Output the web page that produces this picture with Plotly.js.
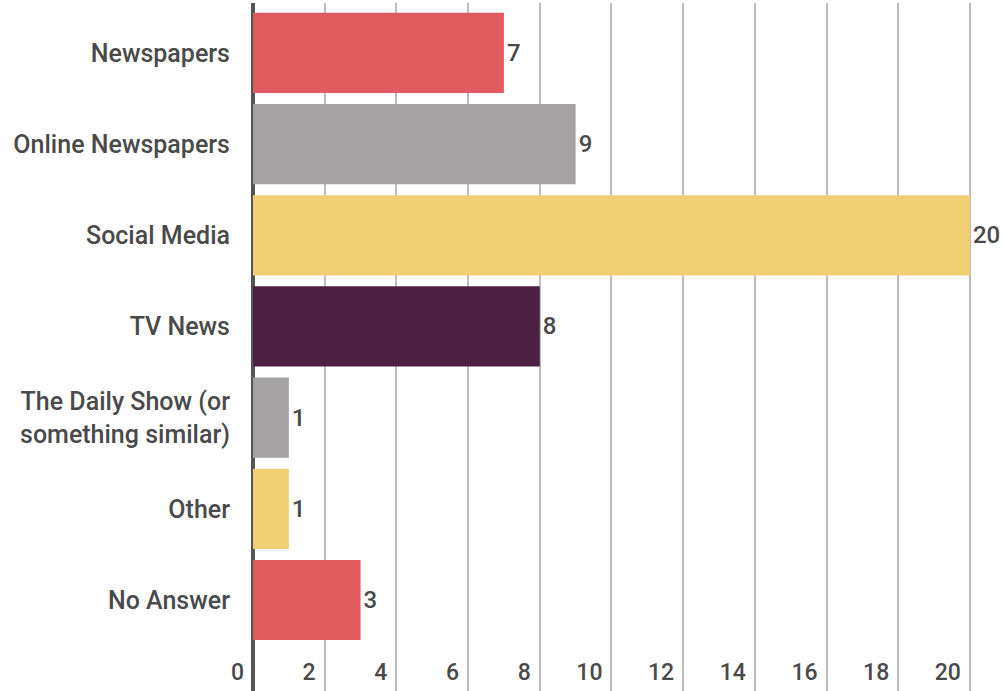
<!DOCTYPE html>
<html>
<head>
<meta charset="utf-8">
<script src="https://cdn.plot.ly/plotly-3.0.1.min.js"></script>
<style>html,body{margin:0;padding:0;background:#fff;}#chart{width:1004px;height:691px;}</style>
</head>
<body>
<div id="chart"></div>
<script>
const categories = ["Newspapers", "Online Newspapers", "Social Media", "TV News", "The Daily Show (or<br>something similar)", "Other", "No Answer"];
const values = [7, 9, 20, 8, 1, 1, 3];
const barColors = ["#E05B60", "#A4A2A3", "#F0CE72", "#4A2140", "#A4A2A3", "#F0CE72", "#E05B60"];
const xTicks = [0, 2, 4, 6, 8, 10, 12, 14, 16, 18, 20];

const trace = {
  type: "bar",
  orientation: "h",
  y: categories,
  x: values,
  marker: {color: barColors, line: {width: 0}},
  text: values.map(String),
  textposition: "outside",
  cliponaxis: false,
  textfont: {family: "Roboto", size: 24, weight: 500, color: "#4a4a4a"},
  hoverinfo: "none"
};

const layout = {
  width: 1004,
  height: 691,
  margin: {l: 253, r: 0, t: 3, b: 0},
  paper_bgcolor: "#fff",
  plot_bgcolor: "#fff",
  showlegend: false,
  bargap: 0.12,
  xaxis: {
    range: [0, 20.95],
    tickvals: xTicks,
    ticktext: xTicks.map(String),
    ticklabelposition: "inside left",
    ticklabeloverflow: "allow",
    ticklabelshift: -9,
    showgrid: true,
    gridcolor: "#bdbdbd",
    gridwidth: 2,
    zeroline: true,
    zerolinecolor: "#555555",
    zerolinewidth: 4,
    showline: false,
    ticks: "",
    tickfont: {family: "Roboto", size: 23, weight: 500, color: "#4a4a4a"},
    fixedrange: true
  },
  yaxis: {
    type: "category",
    range: [6.998, -0.548],
    showgrid: false,
    zeroline: false,
    showline: false,
    ticks: "outside",
    ticklen: 17,
    tickcolor: "rgba(0,0,0,0)",
    tickfont: {family: "Roboto", size: 25, weight: 500, color: "#4a4a4a"},
    fixedrange: true
  },
  font: {family: "Roboto"}
};

Plotly.newPlot("chart", [trace], layout, {displayModeBar: false, staticPlot: true});
</script>
</body>
</html>
